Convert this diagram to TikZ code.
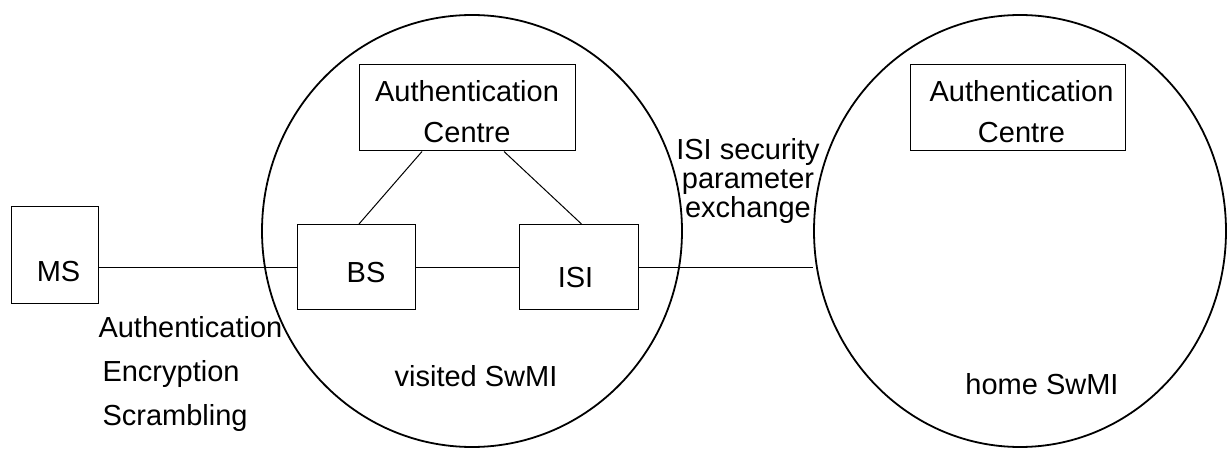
\documentclass[tikz,border=0pt]{standalone}
\usepackage{fontspec}
\setmainfont{Liberation Sans}
\usetikzlibrary{shapes.geometric}

\tikzset{
    unit/.style={draw, line width=0.5pt, inner sep=0pt},
    swmi/.style={draw, ellipse, line width=0.9pt, inner sep=0pt},
    plain/.style={inner sep=0pt}
}

\begin{document}
\begin{tikzpicture}[x=0.5pt, y=-0.5pt, font=\fontsize{14.5}{20.5}\selectfont, line width=0.5pt]

\useasboundingbox (0, 0) rectangle (1227, 449);

\node[swmi, minimum width=210pt, minimum height=216pt] (visited) at (472, 231) {};
\node[swmi, minimum width=206pt, minimum height=216pt] (home) at (1020, 231) {};

\node[unit, minimum width=43.5pt, minimum height=48pt,
    label={[xshift=2pt, yshift=-8.5pt]center:MS}] (ms) at (54.5, 255) {};
\node[unit, minimum width=59pt, minimum height=42.5pt,
    label={[xshift=5pt, yshift=-3pt]center:BS}] (bs) at (356, 267) {};
\node[unit, minimum width=59.5pt, minimum height=42.5pt,
    label={[xshift=-1.5pt, yshift=-5.5pt]center:ISI}] (isi) at (578.5, 267) {};

\node[unit, minimum width=108pt, minimum height=43pt,
    label={[align=center, yshift=-2pt]center:Authentication\\Centre}] (vac) at (467, 108) {};
\node[unit, minimum width=107.5pt, minimum height=43pt,
    label={[align=center, xshift=2pt, yshift=-2pt]center:Authentication\\Centre}] (hac) at (1017.5, 108) {};

\draw (ms.east |- bs) -- (bs.west);
\draw (bs) -- (isi);
\draw (isi.east) -- (isi.east -| home.west);
\draw ([xshift=-22.5pt]vac.south) -- ([xshift=1.5pt]bs.north);
\draw ([xshift=18.5pt]vac.south) -- ([xshift=1.5pt]isi.north);

\node[plain, align=left, anchor=west, font=\fontsize{14.5}{22}\selectfont] (services) at (98, 374)
    {Authentication\\\hspace{2pt}Encryption\\\hspace{2pt}Scrambling};
\node[plain, align=center, font=\fontsize{14.5}{14.5}\selectfont] (exchange) at (748, 181)
    {ISI security\\parameter\\exchange};

\node[plain] (vname) at (476, 376) {visited SwMI};
\node[plain] (hname) at (1042, 384) {home SwMI};

\end{tikzpicture}
\end{document}
